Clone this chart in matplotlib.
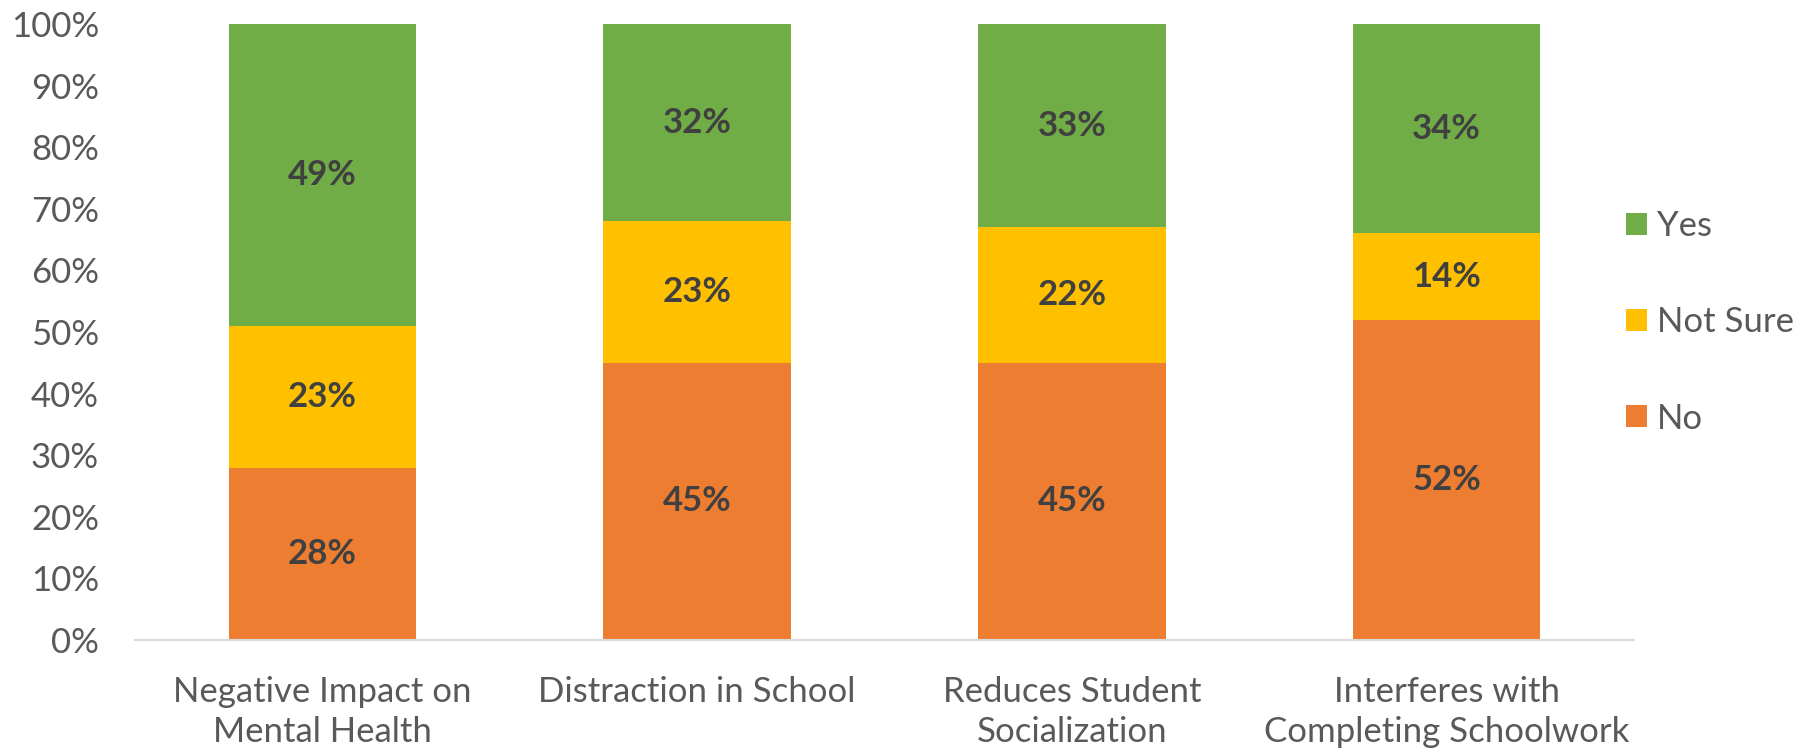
import matplotlib
matplotlib.use("Agg")
import matplotlib.pyplot as plt
from matplotlib.ticker import PercentFormatter

# Survey responses per statement (percent of respondents)
categories = [
    "Negative Impact on\nMental Health",
    "Distraction in School",
    "Reduces Student\nSocialization",
    "Interferes with\nCompleting Schoolwork",
]
no_vals = [28, 45, 45, 52]
not_sure_vals = [23, 23, 22, 14]
yes_vals = [49, 32, 33, 34]

series = [
    ("No", no_vals, "#ED7D31"),
    ("Not Sure", not_sure_vals, "#FFC000"),
    ("Yes", yes_vals, "#70AD47"),
]

plt.rcParams["font.family"] = ["Lato", "DejaVu Sans"]
text_color = "#595959"
fs = 25

fig = plt.figure(figsize=(17.98, 7.55), dpi=100)
ax = fig.add_axes([0.0751, 0.1523, 0.8337, 0.8159])

x = list(range(len(categories)))
bottom = [0] * len(categories)
handles = {}
for name, vals, color in series:
    bars = ax.bar(x, vals, width=0.5, bottom=bottom, color=color, label=name)
    handles[name] = bars
    for xi, b, v in zip(x, bottom, vals):
        ax.text(xi, b + v / 2, f"{v}%", ha="center", va="center",
                fontsize=fs, fontweight="bold", color="#404040")
    bottom = [b + v for b, v in zip(bottom, vals)]

ax.set_xlim(-0.5, len(categories) - 0.5)
ax.set_ylim(0, 100)
ax.set_yticks(range(0, 101, 10))
ax.yaxis.set_major_formatter(PercentFormatter(decimals=0))
ax.set_xticks(x)
ax.set_xticklabels(categories, linespacing=1.32)

for side in ["top", "right", "left"]:
    ax.spines[side].set_visible(False)
ax.spines["bottom"].set_color("#D9D9D9")
ax.spines["bottom"].set_linewidth(1.5)
ax.tick_params(axis="both", length=0, labelsize=fs, colors=text_color)
ax.tick_params(axis="y", pad=26)
ax.tick_params(axis="x", pad=26)

# legend, top to bottom: Yes, Not Sure, No
order = ["Yes", "Not Sure", "No"]
leg = fig.legend([handles[n] for n in order], order,
                 loc="center left", bbox_to_anchor=(0.9043, 0.573),
                 frameon=False, fontsize=fs, labelcolor=text_color,
                 borderpad=0, borderaxespad=0,
                 handlelength=0.6, handleheight=0.6, handletextpad=0.3,
                 labelspacing=1.85)

fig.savefig("out.png", dpi=100)
